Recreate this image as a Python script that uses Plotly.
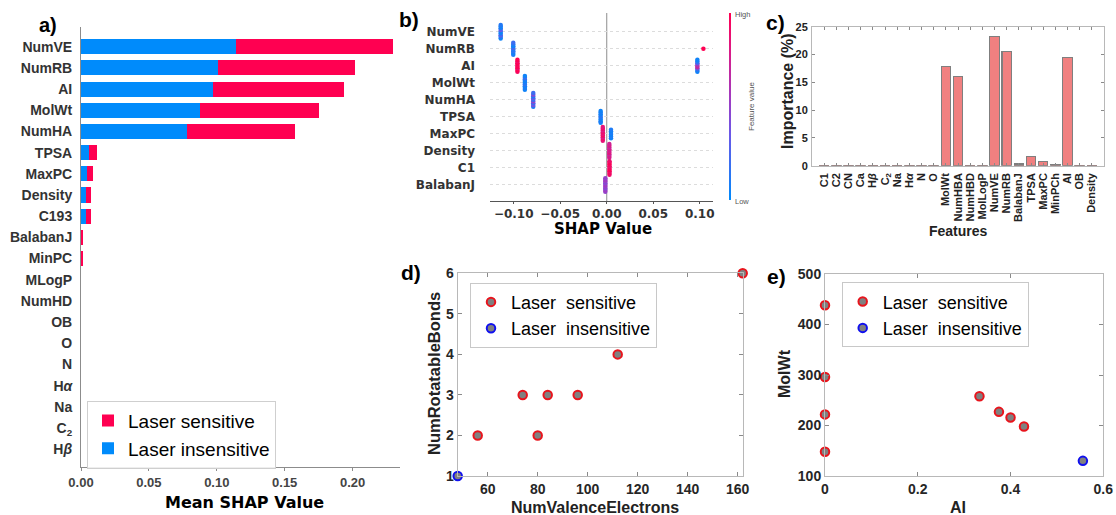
import plotly.graph_objects as go
from collections import defaultdict

# ---------------- data ----------------
# panel a: mean |SHAP| per class
a_features = ["NumVE", "NumRB", "AI", "MolWt", "NumHA", "TPSA", "MaxPC", "Density", "C193",
              "BalabanJ", "MinPC", "MLogP", "NumHD", "OB", "O", "N", "H<i>α</i>", "Na",
              "C<sub>2</sub>", "H<i>β</i>"]
a_insensitive = [0.1144, 0.1009, 0.0972, 0.0876, 0.0783, 0.0061, 0.0046, 0.0035, 0.0035,
                 0.0007, 0.0006, 0, 0, 0, 0, 0, 0, 0, 0, 0]
a_sensitive = [0.1150, 0.1010, 0.0967, 0.0877, 0.0793, 0.0059, 0.0042, 0.0039, 0.0039,
               0.0007, 0.0006, 0, 0, 0, 0, 0, 0, 0, 0, 0]

# panel b: SHAP beeswarm
b_features = ["NumVE", "NumRB", "AI", "MolWt", "NumHA", "TPSA", "MaxPC", "Density", "C1", "BalabanJ"]
b_point_feature = (["NumVE"] * 9 + ["NumRB"] * 9 + ["AI"] * 16 + ["MolWt"] * 9 + ["NumHA"] * 9 +
                   ["TPSA"] * 8 + ["MaxPC"] * 15 + ["Density"] * 9 + ["C1"] * 9 + ["BalabanJ"] * 9)
b_point_shap = ([-0.114] * 9 +
                [-0.1005] * 8 + [0.104] +
                [-0.096] * 8 + [0.0975] * 8 +
                [-0.088] * 9 +
                [-0.079] * 9 +
                [-0.0065] * 8 +
                [-0.0042] * 9 + [0.0046] * 6 +
                [0.0028] * 9 +
                [0.0030] * 9 +
                [-0.0015] * 9)
b_point_value = ([0.05, 0.1, 0.3, 0.08, 0.05, 0.35, 0.1, 0.05, 0.12] +
                 [0.1, 0.05, 0.15, 0.1, 0.25, 0.05, 0.1, 0.2] + [1.0] +
                 [0.95, 1.0, 0.9, 1.0, 0.95, 1.0, 0.92, 1.0] +
                 [0.05, 0.1, 0.45, 0.7, 0.6, 0.3, 0.1, 0.05] +
                 [0.05, 0.1, 0.05, 0.15, 0.1, 0.05, 0.1, 0.2, 0.05] +
                 [0.1, 0.4, 0.2, 0.5, 0.15, 0.35, 0.1, 0.45, 0.2] +
                 [0.05, 0.1, 0.05, 0.1, 0.15, 0.05, 0.1, 0.05] +
                 [0.85, 0.9, 0.8, 0.95, 0.85, 0.9, 0.8, 0.9, 0.85] + [0.05, 0.1, 0.05, 0.1, 0.05, 0.1] +
                 [0.75, 0.8, 0.7, 0.85, 0.75, 0.8, 0.7, 0.8, 0.75] +
                 [0.9, 0.95, 0.9, 1.0, 0.95, 0.9, 0.95, 1.0, 0.9] +
                 [0.5, 0.55, 0.45, 0.5, 0.55, 0.45, 0.5, 0.55, 0.5])
b_ticks = ["−0.10", "−0.05", "0.00", "0.05", "0.10"]

# panel c: feature importance (%)
c_features = ["C1", "C2", "CN", "Ca", "H<i>β</i>", "C<sub>2</sub>", "Na", "H<i>α</i>", "N", "O",
              "MolWt", "NumHBA", "NumHBD", "MolLogP", "NumVE", "NumRB", "BalabanJ", "TPSA",
              "MaxPC", "MinPCh", "AI", "OB", "Density"]
c_importance = [0.1, 0.1, 0.1, 0.1, 0.1, 0.1, 0.1, 0.1, 0.1, 0.1,
                17.9, 16.0, 0.1, 0.1, 23.2, 20.5, 0.3, 1.65, 0.75, 0.15, 19.4, 0.1, 0.1]

# panel d
d_sens_x = [56, 74, 80, 84, 96, 112, 162]
d_sens_y = [2, 3, 2, 3, 3, 4, 6]
d_insens_x = [48]
d_insens_y = [1]

# panel e
e_sens_x = [0, 0, 0, 0, 0.333, 0.375, 0.4, 0.429]
e_sens_y = [438, 296, 222, 148, 258, 227, 216, 198]
e_insens_x = [0.556]
e_insens_y = [130]

series_names = ["Laser sensitive", "Laser insensitive"]

# ---------------- helpers ----------------
W, H = 1116, 515
def px(x):
    return x / W
def py(y):
    return 1 - y / H

ARIAL = "Liberation Sans, Arial, sans-serif"
DEJAVU = "DejaVu Sans, sans-serif"
RED_A, BLUE_A = "#ff0051", "#008bfb"

fig = go.Figure()

# ---- panel a ----
fig.add_trace(go.Bar(y=a_features, x=a_insensitive, orientation="h", name=series_names[1],
                     marker=dict(color=BLUE_A, line=dict(width=0)), width=0.71,
                     xaxis="x", yaxis="y", legend="legend", legendrank=2))
fig.add_trace(go.Bar(y=a_features, x=a_sensitive, orientation="h", name=series_names[0],
                     marker=dict(color=RED_A, line=dict(width=0)), width=0.71,
                     xaxis="x", yaxis="y", legend="legend", legendrank=1))

# ---- panel b ----
groups = defaultdict(list)
for i, (f, s) in enumerate(zip(b_point_feature, b_point_shap)):
    groups[(f, s)].append(i)
b_y = [0.0] * len(b_point_feature)
nf = len(b_features)
for (f, s), idx in groups.items():
    base = nf - 1 - b_features.index(f)
    n = len(idx)
    for k, i in enumerate(idx):
        b_y[i] = base + (k - (n - 1) / 2) * 0.1

fig.add_trace(go.Scatter(x=b_point_shap, y=b_y, mode="markers", xaxis="x2", yaxis="y2",
                         marker=dict(size=4.5, color=b_point_value, coloraxis="coloraxis",
                                     line=dict(width=0)),
                         showlegend=False, cliponaxis=False))

# ---- panel c ----
fig.add_trace(go.Bar(x=c_features, y=c_importance, xaxis="x3", yaxis="y3", width=0.77,
                     marker=dict(color="#f08080", line=dict(color="#7f7f7f", width=1.2)),
                     showlegend=False))

# ---- panels d, e ----
def mk(edge):
    return dict(size=8.5, color="#808080", line=dict(color=edge, width=2))

fig.add_trace(go.Scatter(x=d_sens_x, y=d_sens_y, mode="markers", name="Laser\u00a0 sensitive",
                         marker=mk("#e8141c"), xaxis="x4", yaxis="y4", legend="legend2",
                         cliponaxis=False))
fig.add_trace(go.Scatter(x=d_insens_x, y=d_insens_y, mode="markers", name="Laser\u00a0 insensitive",
                         marker=mk("#1010ee"), xaxis="x4", yaxis="y4", legend="legend2",
                         cliponaxis=False))
fig.add_trace(go.Scatter(x=e_sens_x, y=e_sens_y, mode="markers", name="Laser\u00a0 sensitive",
                         marker=mk("#e8141c"), xaxis="x5", yaxis="y5", legend="legend3",
                         cliponaxis=False))
fig.add_trace(go.Scatter(x=e_insens_x, y=e_insens_y, mode="markers", name="Laser\u00a0 insensitive",
                         marker=mk("#1010ee"), xaxis="x5", yaxis="y5", legend="legend3",
                         cliponaxis=False))

# ---------------- layout ----------------
matlab_tick = dict(family=ARIAL, size=14, color="#262626", weight="bold")
box = dict(showline=True, linecolor="#b8b8b8", linewidth=1, mirror="ticks", ticks="inside",
           tickcolor="#8a8a8a", showgrid=False, zeroline=False, automargin=False)

fig.update_layout(
    width=W, height=H, margin=dict(l=0, r=0, t=0, b=0, autoexpand=False),
    paper_bgcolor="white", plot_bgcolor="white",
    barmode="stack", bargap=0.3,
    # panel a
    xaxis=dict(domain=[px(81), px(400)], anchor="y", range=[0, 0.2349],
               tickvals=[0, 0.05, 0.10, 0.15, 0.20], tickformat=".2f",
               showline=True, linecolor="#8c8c8c", linewidth=1, ticks="outside", ticklen=3,
               tickcolor="#8c8c8c", showgrid=False, zeroline=False, automargin=False,
               tickfont=dict(family=ARIAL, size=13, color="#444", weight="bold")),
    yaxis=dict(domain=[py(467), py(27)], anchor="x", type="category",
               categoryorder="array", categoryarray=a_features, range=[19.84, -0.93],
               showline=True, linecolor="#8c8c8c", linewidth=1, ticks="", showgrid=False,
               ticklabelstandoff=5, automargin=False,
               tickfont=dict(family=ARIAL, size=14, color="#333", weight="bold")),
    # panel b
    xaxis2=dict(domain=[px(490), px(712.7)], anchor="y2", range=[-0.1255, 0.114],
                tickvals=[-0.10, -0.05, 0.0, 0.05, 0.10], ticktext=b_ticks,
                showline=True, linecolor="#555", linewidth=1, ticks="outside", ticklen=2,
                tickcolor="#555", showgrid=False, zeroline=False, automargin=False,
                tickfont=dict(family=DEJAVU, size=12, color="#333", weight="bold")),
    yaxis2=dict(domain=[py(201), py(13)], anchor="x2", range=[-0.94, 10.1],
                tickvals=list(range(nf)), ticktext=list(reversed(b_features)),
                showgrid=True, gridcolor="#dcdcdc", griddash="dot", gridwidth=1,
                zeroline=False, showline=False, ticks="", ticklabelstandoff=14, automargin=False,
                tickfont=dict(family=DEJAVU, size=12, color="#333", weight="bold")),
    coloraxis=dict(cmin=0, cmax=1,
                   colorscale=[[0, "#008afb"], [0.35, "#6a58e8"], [0.55, "#a23ac0"],
                               [0.8, "#dc1a86"], [1, "#ff0052"]],
                   colorbar=dict(x=px(729), xanchor="left", xpad=0, ypad=0,
                                 y=py(106.5), yanchor="middle", len=187 / H, lenmode="fraction",
                                 thickness=2, thicknessmode="pixels", outlinewidth=0,
                                 showticklabels=False, ticks="")),
    # panel c
    xaxis3=dict(domain=[px(812), px(1104)], anchor="y3", type="category",
                categoryorder="array", categoryarray=c_features, range=[-1, 23],
                tickmode="array", tickvals=c_features, ticktext=c_features,
                tickangle=-90, ticklen=3, ticklabelstandoff=2,
                tickfont=dict(family=ARIAL, size=11, color="#222", weight="bold"), **box),
    yaxis3=dict(domain=[py(165.7), py(26.7)], anchor="x3", range=[0, 25], dtick=5,
                ticklen=3, ticklabelstandoff=1,
                tickfont=dict(family=ARIAL, size=11, color="#222", weight="bold"), **box),
    # panel d
    xaxis4=dict(domain=[px(457.7), px(742.7)], anchor="y4", range=[48, 162],
                tickvals=[60, 80, 100, 120, 140, 160], tickfont=matlab_tick, ticklen=4, **box),
    yaxis4=dict(domain=[py(476), py(273.3)], anchor="x4", range=[1, 6], dtick=1,
                tickfont=matlab_tick, ticklen=4, **box),
    # panel e
    xaxis5=dict(domain=[px(825), px(1103.3)], anchor="y5", range=[0, 0.6],
                tickvals=[0, 0.2, 0.4, 0.6], ticktext=["0", "0.2", "0.4", "0.6"],
                tickfont=matlab_tick, ticklen=4, **box),
    yaxis5=dict(domain=[py(476), py(274)], anchor="x5", range=[100, 500], dtick=100,
                tickfont=matlab_tick, ticklen=4, **box),
    legend=dict(x=px(87), y=py(400.7), xanchor="left", yanchor="top", traceorder="normal",
                bordercolor="#cfcfcf", borderwidth=1, bgcolor="rgba(255,255,255,0.85)",
                font=dict(family=ARIAL, size=19, color="black"), itemwidth=30,
                tracegroupgap=0),
    legend2=dict(x=px(470), y=py(282.7), xanchor="left", yanchor="top", traceorder="normal",
                 bordercolor="#c8c8c8", borderwidth=1, bgcolor="white",
                 font=dict(family=ARIAL, size=18, color="black"), itemwidth=30),
    legend3=dict(x=px(841.7), y=py(282.3), xanchor="left", yanchor="top", traceorder="normal",
                 bordercolor="#c8c8c8", borderwidth=1, bgcolor="white",
                 font=dict(family=ARIAL, size=18, color="black"), itemwidth=30),
)

# zero line in panel b
fig.add_shape(type="line", xref="x2", yref="y2 domain", x0=0, x1=0, y0=0, y1=1,
              line=dict(color="#a0a0a0", width=1.2), layer="below")

# ---------------- text annotations ----------------
def ann(text, x, y, size, family=ARIAL, color="black", bold=True, angle=0, xanchor="center"):
    fig.add_annotation(text=text, x=px(x), y=py(y), xref="paper", yref="paper",
                       showarrow=False, textangle=angle, xanchor=xanchor, yanchor="middle",
                       font=dict(family=family, size=size, color=color,
                                 weight="bold" if bold else "normal"))

# panel letters
ann("a)", 47.5, 25, 20)
ann("b)", 409, 20, 21)
ann("c)", 775, 22, 21)
ann("d)", 411, 272, 21)
ann("e)", 776, 276, 21)

# axis titles
ann("Mean SHAP Value", 244, 502, 16, family=DEJAVU)
ann("SHAP Value", 602.5, 229, 15, family=DEJAVU)
ann("Importance (%)", 787, 91, 16, angle=-90, color="#222")
ann("Features", 958, 231, 14, color="#222")
ann("NumRotatableBonds", 434, 374, 16.5, angle=-90, color="#222")
ann("NumValenceElectrons", 595, 507, 16, color="#222")
ann("MolWt", 784, 374, 16, angle=-90, color="#222")
ann("AI", 958, 507, 16, color="#222")

# colorbar labels
ann("High", 733, 14, 7.5, color="#555", bold=False, xanchor="left")
ann("Low", 733, 201, 7.5, color="#555", bold=False, xanchor="left")
ann("Feature value", 752, 107, 8, color="#555", bold=False, angle=-90)

fig.write_html("out.html")
